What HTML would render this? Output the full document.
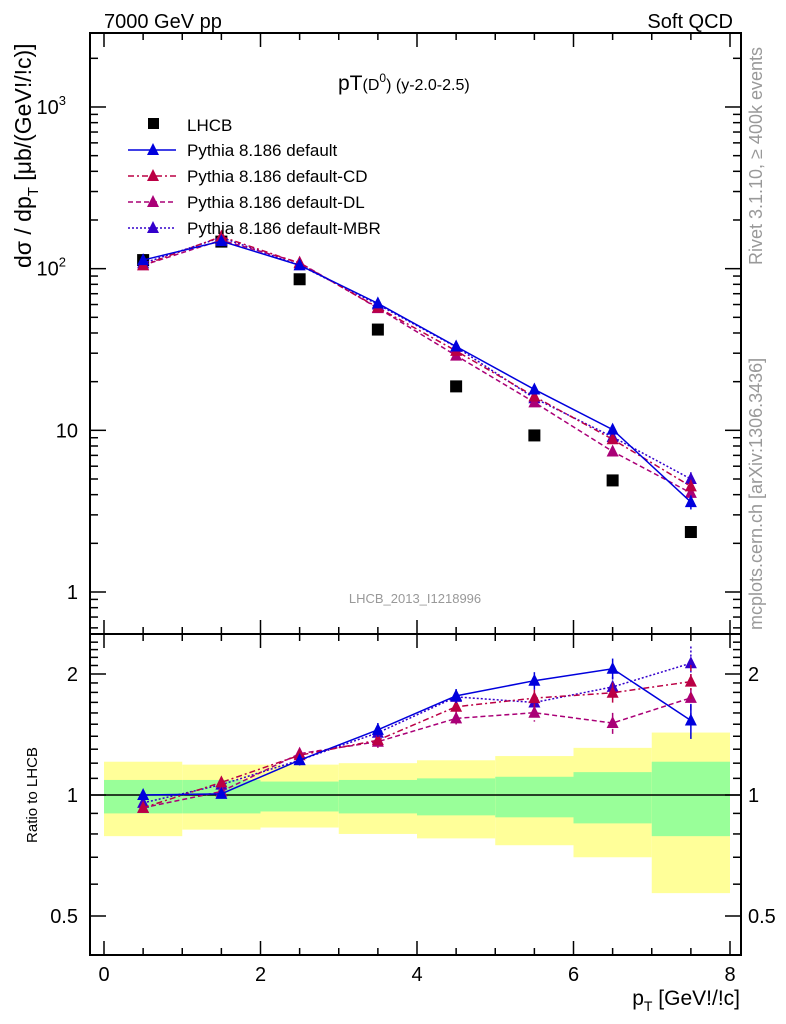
<!DOCTYPE html>
<html><head><meta charset="utf-8"><style>
html,body{margin:0;padding:0;background:#fff;}
svg{display:block;font-family:"Liberation Sans",sans-serif;}
</style></head><body>
<svg id="c" width="786" height="1024" xmlns="http://www.w3.org/2000/svg">
<text x="104" y="28" font-size="20">7000 GeV pp</text>
<text x="733" y="28" font-size="20" text-anchor="end">Soft QCD</text>
<text x="338" y="90" font-size="21">pT<tspan font-size="16">(D</tspan><tspan font-size="12" dy="-8">0</tspan><tspan font-size="16" dy="8">) (y-2.0-2.5)</tspan></text>
<text x="415" y="603" font-size="13" fill="#999" text-anchor="middle">LHCB_2013_I1218996</text>
<text transform="translate(762,265) rotate(-90)" font-size="18" fill="#999">Rivet 3.1.10, ≥ 400k events</text>
<text transform="translate(762,630) rotate(-90)" font-size="18" fill="#999">mcplots.cern.ch [arXiv:1306.3436]</text>
<text transform="translate(31,268) rotate(-90)" font-size="23" text-anchor="start">dσ / dp<tspan font-size="15" dy="7">T</tspan><tspan dy="-7"> [μb/(GeV!/!c)]</tspan></text>
<text transform="translate(37,795) rotate(-90)" font-size="15" text-anchor="middle">Ratio to LHCB</text>
<text x="740" y="1005" font-size="21" text-anchor="end">p<tspan font-size="14" dy="6">T</tspan><tspan dy="-6"> [GeV!/!c]</tspan></text>
<g id="g"></g>
</svg>
<script>
const binsLo=[0,1,2,3,4,5,6,7];
const xCenters=[0.5,1.5,2.5,3.5,4.5,5.5,6.5,7.5];
const lhcb=[113,147,86,42,18.7,9.3,4.9,2.35];
const pyDefault=[113,148,105,61,33,17.9,10.1,3.6];
const pyCD=[105,158,108,57.5,31,16.2,8.8,4.5];
const pyDL=[105,150,109,57,29,14.9,7.4,4.1];
const pyMBR=[108,156,105,60,32.8,15.8,9.1,5.0];
const errFrac=[0.02,0.02,0.03,0.04,0.04,0.05,0.06,0.10];
const yellowHi=[1.21,1.19,1.19,1.20,1.22,1.25,1.31,1.43];
const yellowLo=[0.79,0.82,0.83,0.80,0.78,0.75,0.70,0.57];
const greenHi=[1.09,1.09,1.08,1.09,1.10,1.11,1.14,1.21];
const greenLo=[0.90,0.90,0.91,0.90,0.89,0.88,0.85,0.79];
const xTicks=[0,2,4,6,8];
const ratioTicks=[0.5,1,2];

const NS="http://www.w3.org/2000/svg";
const g=document.getElementById('g');
const X0=90,X1=741,T=33,M=634,B=955;
const sx=v=>104+v*78.25;
const sy=v=>592-161.67*Math.log10(v);
const sr=v=>795-121*Math.log2(v);
function el(t,a,p){const e=document.createElementNS(NS,t);for(const k in a)e.setAttribute(k,a[k]);(p||g).appendChild(e);return e;}

for(let i=0;i<binsLo.length;i++){
  const b=el('rect',{x:sx(binsLo[i]),y:sr(yellowHi[i]),width:78.25,height:sr(yellowLo[i])-sr(yellowHi[i]),fill:'#ffff99'});
  
  
  const gr=el('rect',{x:sx(binsLo[i]),y:sr(greenHi[i]),width:78.25,height:sr(greenLo[i])-sr(greenHi[i]),fill:'#99ff99'});
  
  
}
el('line',{x1:X0,x2:X1,y1:sr(1),y2:sr(1),stroke:'#000','stroke-width':1.5});

const f1=el('rect',{x:X0,y:T,width:X1-X0,height:M-T,fill:'none',stroke:'#000','stroke-width':2});


const f2=el('rect',{x:X0,y:M,width:X1-X0,height:B-M,fill:'none',stroke:'#000','stroke-width':2});



for(let v=0;v<=8.001;v+=0.5){
  const maj=Math.abs(v-Math.round(v/2)*2)<1e-6, L=maj?14:7;
  [[T,1],[M,-1],[M,1],[B,-1]].forEach(([y,d])=>el('line',{x1:sx(v),x2:sx(v),y1:y,y2:y+d*L,stroke:'#000','stroke-width':1.5}));
}
xTicks.forEach(v=>{const t=el('text',{x:sx(v),y:981,'font-size':20,'text-anchor':'middle'});t.textContent=v;

});

for(let d=-1;d<=3;d++)for(let m=1;m<=9;m++){
  const v=m*Math.pow(10,d),y=sy(v); if(y<T||y>M)continue;
  const L=m==1?16:8;
  el('line',{x1:X0,x2:X0+L,y1:y,y2:y,stroke:'#000','stroke-width':1.5});
  el('line',{x1:X1,x2:X1-L,y1:y,y2:y,stroke:'#000','stroke-width':1.5});
}
[[1000,'10','3'],[100,'10','2'],[10,'10',''],[1,'1','']].forEach(([v,b,e])=>{
  const t=el('text',{x:e?71:78,y:sy(v)+7,'font-size':20,'text-anchor':'end'});
  t.textContent=b;
  if(e){const s=el('tspan',{'font-size':13,dy:-9},t);s.textContent=e;t.setAttribute('x',66);}
  
  
});
for(let v=0.4;v<=2.5;v+=0.1){
  const y=sr(v); if(y<M+2||y>B-2)continue;
  const maj=ratioTicks.some(r=>Math.abs(r-v)<1e-6),L=maj?16:8;
  el('line',{x1:X0,x2:X0+L,y1:y,y2:y,stroke:'#000','stroke-width':1.5});
  el('line',{x1:X1,x2:X1-L,y1:y,y2:y,stroke:'#000','stroke-width':1.5});
}
ratioTicks.forEach(v=>{
  const a=el('text',{x:78,y:sr(v)+7,'font-size':20,'text-anchor':'end'});a.textContent=v;
  
  
  const b=el('text',{x:748,y:sr(v)+7,'font-size':20});b.textContent=v;
  
  
});

lhcb.forEach((v,i)=>{const r=el('rect',{x:sx(xCenters[i])-6,y:sy(v)-6,width:12,height:12,fill:'#000'});

});

const series=[
 {name:'pythia-default',vals:pyDefault,col:'#0000dd',dash:'',lbl:'Pythia 8.186 default'},
 {name:'pythia-cd',vals:pyCD,col:'#bb0044',dash:'6,3,2,3',lbl:'Pythia 8.186 default-CD'},
 {name:'pythia-dl',vals:pyDL,col:'#aa0077',dash:'5,3',lbl:'Pythia 8.186 default-DL'},
 {name:'pythia-mbr',vals:pyMBR,col:'#3300cc',dash:'2,2',lbl:'Pythia 8.186 default-MBR'}
];
function tri(x,y,c,n){const p=el('polygon',{points:`${x},${y-7} ${x-6},${y+5} ${x+6},${y+5}`,fill:c});

}
series.slice().reverse().forEach(s=>{
  const pm=s.vals.map((v,i)=>sx(xCenters[i])+','+sy(v)).join(' ');
  const l1=el('polyline',{points:pm,fill:'none',stroke:s.col,'stroke-width':1.5,'stroke-dasharray':s.dash});
  
  
  const rv=s.vals.map((v,i)=>v/lhcb[i]);
  const pr=rv.map((v,i)=>sx(xCenters[i])+','+sr(v)).join(' ');
  const l2=el('polyline',{points:pr,fill:'none',stroke:s.col,'stroke-width':1.5,'stroke-dasharray':s.dash});
  
  
  s.vals.forEach((v,i)=>{
    const x=sx(xCenters[i]),e=errFrac[i];
    el('line',{x1:x,x2:x,y1:sy(v*(1+e)),y2:sy(v*(1-e)),stroke:s.col,'stroke-width':1.5,'stroke-dasharray':s.dash});
    el('line',{x1:x,x2:x,y1:sr(rv[i]*(1+e)),y2:sr(rv[i]*(1-e)),stroke:s.col,'stroke-width':1.5,'stroke-dasharray':s.dash});
    tri(x,sy(v),s.col,s.name+'-point');
    tri(x,sr(rv[i]),s.col,s.name+'-ratio-point');
  });
});

const lg=el('g',{});


el('rect',{x:148,y:118,width:11,height:11,fill:'#000'},lg);
const lt=el('text',{x:187,y:131,'font-size':17},lg);lt.textContent='LHCB';


series.forEach((s,i)=>{
  const y=150+i*26;
  el('line',{x1:128,x2:176,y1:y,y2:y,stroke:s.col,'stroke-width':1.5,'stroke-dasharray':s.dash},lg);
  el('polygon',{points:`153,${y-7} 147,${y+5} 159,${y+5}`,fill:s.col},lg);
  const t=el('text',{x:187,y:y+6,'font-size':17},lg);t.textContent=s.lbl;
  
  
});
</script>
</body></html>
